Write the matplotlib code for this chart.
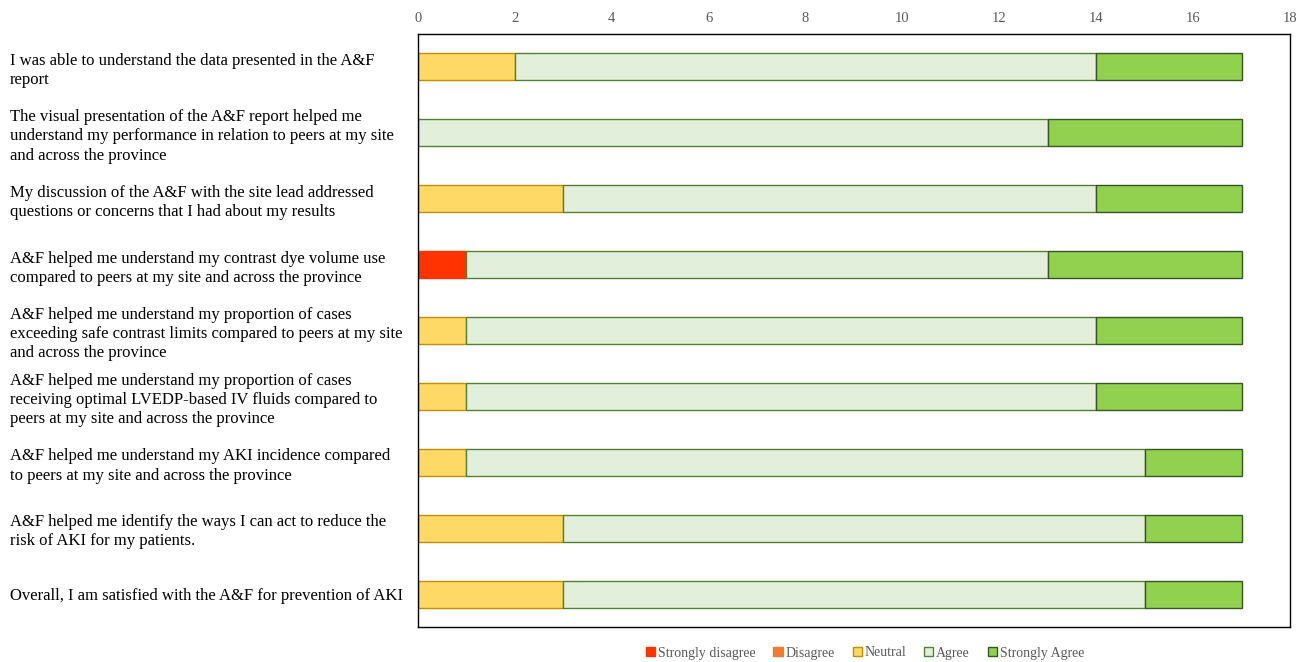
import matplotlib
matplotlib.use("Agg")
import matplotlib.pyplot as plt
import numpy as np

questions = [
    "I was able to understand the data presented in the A&F\nreport",
    "The visual presentation of the A&F report helped me\nunderstand my performance in relation to peers at my site\nand across the province",
    "My discussion of the A&F with the site lead addressed\nquestions or concerns that I had about my results",
    "A&F helped me understand my contrast dye volume use\ncompared to peers at my site and across the province",
    "A&F helped me understand my proportion of cases\nexceeding safe contrast limits compared to peers at my site\nand across the province",
    "A&F helped me understand my proportion of cases\nreceiving optimal LVEDP-based IV fluids compared to\npeers at my site and across the province",
    "A&F helped me understand my AKI incidence compared\nto peers at my site and across the province",
    "A&F helped me identify the ways I can act to reduce the\nrisk of AKI for my patients.",
    "Overall, I am satisfied with the A&F for prevention of AKI",
]

strongly_disagree = [0, 0, 0, 1, 0, 0, 0, 0, 0]
disagree = [0, 0, 0, 0, 0, 0, 0, 0, 0]
neutral = [2, 0, 3, 0, 1, 1, 1, 3, 3]
agree = [12, 13, 11, 12, 13, 13, 14, 12, 12]
strongly_agree = [3, 4, 3, 4, 3, 3, 2, 2, 2]

series = [
    ("Strongly disagree", strongly_disagree, "#FF3300", "#FF3300"),
    ("Disagree", disagree, "#ED7D31", "#ED7D31"),
    ("Neutral", neutral, "#FFD966", "#BF9000"),
    ("Agree", agree, "#E2EFDA", "#548235"),
    ("Strongly Agree", strongly_agree, "#92D050", "#385723"),
]

plt.rcParams["font.family"] = ["Liberation Serif", "DejaVu Serif"]

fig = plt.figure(figsize=(13.03, 6.62), dpi=100)
ax = fig.add_axes([418 / 1303, 1 - 627 / 662, (1290 - 418) / 1303, (627 - 34) / 662])

y = np.arange(len(questions))
left = np.zeros(len(questions))
for name, vals, face, edge in series:
    vals = np.array(vals, dtype=float)
    mask = vals > 0
    ax.barh(y[mask], vals[mask], left=left[mask], height=0.41,
            color=face, edgecolor=edge, linewidth=1.0)
    # legend entry for every category, including ones with no responses
    ax.barh([np.nan], [0], color=face, edgecolor=edge, linewidth=1.0, label=name)
    left += vals

ax.set_xlim(0, 18)
ax.set_ylim(len(questions) - 0.5, -0.5)
ax.set_xticks(np.arange(0, 19, 2))
ax.xaxis.tick_top()
ax.tick_params(axis="x", length=0, pad=6.5, labelsize=10.5, labelcolor="#595959")

ax.set_yticks(y)
ax.set_yticklabels(questions, fontsize=12, color="#000000", ha="left",
                   linespacing=1.27)
ax.tick_params(axis="y", length=0, pad=(418 - 10) * 0.72)

for s in ax.spines.values():
    s.set_color("#000000")
    s.set_linewidth(1.0)

leg = fig.legend(loc="center", bbox_to_anchor=(865 / 1303, 1 - 653 / 662),
                 ncol=5, frameon=False, fontsize=10, handlelength=0.65,
                 handleheight=0.65, handletextpad=0.2, columnspacing=1.3)
for t in leg.get_texts():
    t.set_color("#595959")

fig.savefig("out.png", dpi=100)
